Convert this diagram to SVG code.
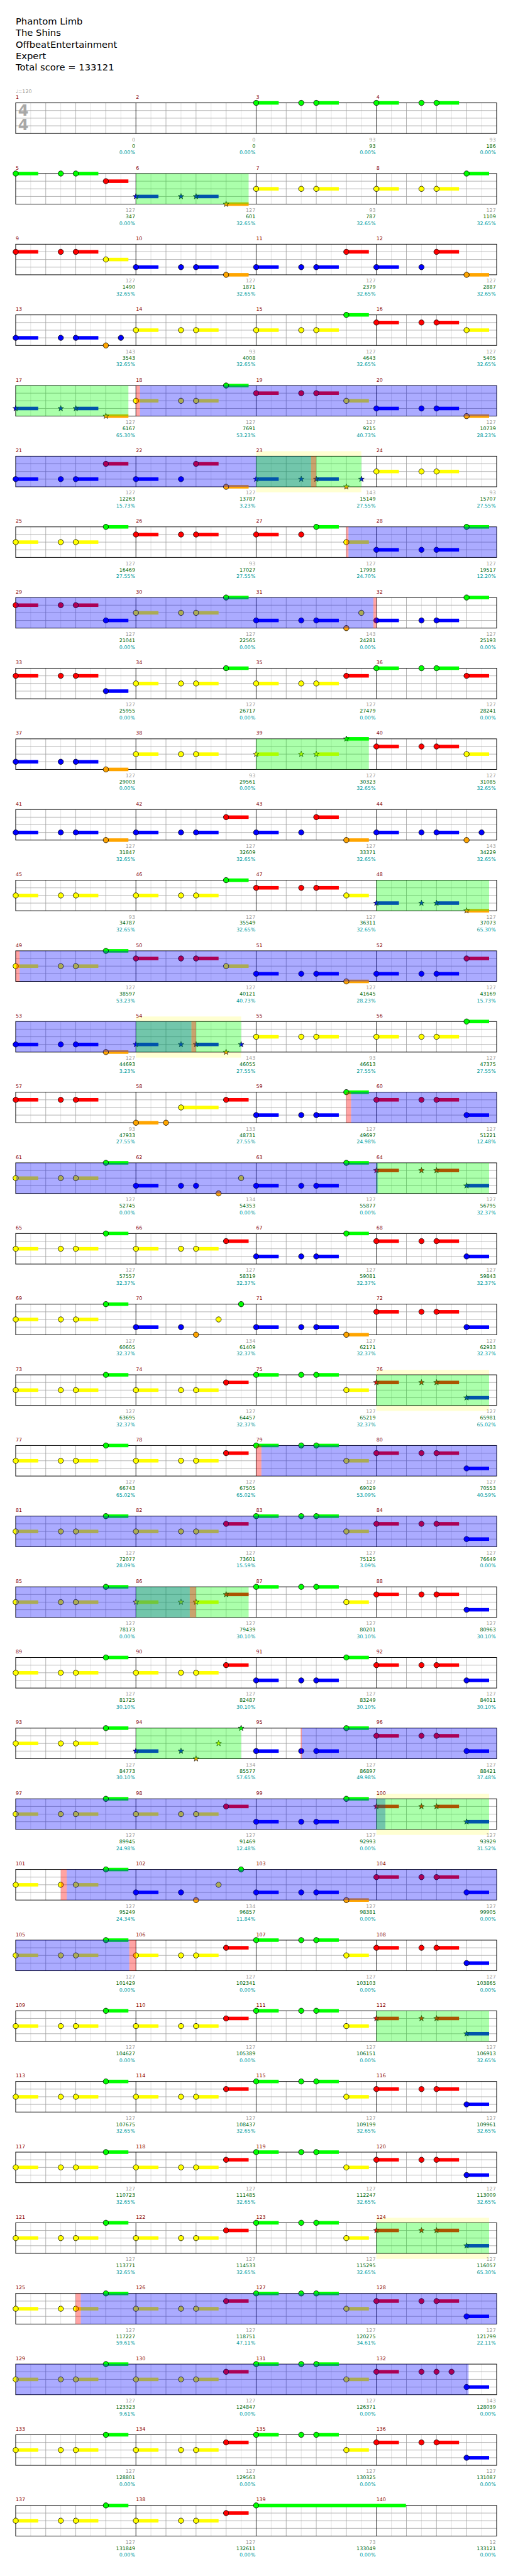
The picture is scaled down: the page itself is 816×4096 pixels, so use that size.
<svg xmlns="http://www.w3.org/2000/svg" width="816" height="4096" viewBox="0 0 816 4096">
<style>
text{font-family:"DejaVu Sans","Liberation Sans",sans-serif}
.ti{font-size:18.5px;fill:#000}
.tp{font-size:10px;fill:#a0a0a0}
.ts{font-size:30px;font-weight:bold;fill:#a8a8a8}
.mn{font-size:10px;fill:#8b0000}
.a,.s,.p{font-size:10px;text-anchor:end}
.a{fill:#a0a0a0}.s{fill:#006400}.p{fill:#009a9a}
.n{stroke:#000;stroke-width:1}
.st{stroke:#000;stroke-width:.8}
.g{fill:#00ff00}.r{fill:#ff0000}.y{fill:#ffff00}.b{fill:#0000ff}.o{fill:#ffa500}
.og{fill:#00ff00;fill-opacity:.33}
.ob{fill:#0000ff;fill-opacity:.33}
.or{fill:#ff0000;fill-opacity:.36}
.oy{fill:#ffffd2}
</style>
<defs>
<circle id="cG" r="5.3" class="g n"/>
<circle id="cR" cy="15.25" r="5.3" class="r n"/>
<circle id="cY" cy="30.5" r="5.3" class="y n"/>
<circle id="cB" cy="45.75" r="5.3" class="b n"/>
<circle id="cO" cy="61" r="5.3" class="o n"/>
<g id="sG"><rect y="-3.5" width="45" height="7" class="g"/><use href="#cG"/></g>
<g id="sR"><rect y="11.75" width="45" height="7" class="r"/><use href="#cR"/></g>
<g id="sY"><rect y="27" width="45" height="7" class="y"/><use href="#cY"/></g>
<g id="sB"><rect y="42.25" width="45" height="7" class="b"/><use href="#cB"/></g>
<g id="sO"><rect y="57.5" width="45" height="7" class="o"/><use href="#cO"/></g>
<path id="star" d="M0-6 1.41-1.94 5.71-1.85 2.28.74 3.53 4.85 0 2.4-3.53 4.85-2.28.74-5.71-1.85-1.41-1.94Z"/>
<use id="tG" href="#star" class="g st"/>
<use id="tR" href="#star" y="15.25" class="r st"/>
<use id="tY" href="#star" y="30.5" class="y st"/>
<use id="tB" href="#star" y="45.75" class="b st"/>
<use id="tO" href="#star" y="61" class="o st"/>
<g id="uG"><rect y="-3.5" width="45" height="7" class="g"/><use href="#tG"/></g>
<g id="uR"><rect y="11.75" width="45" height="7" class="r"/><use href="#tR"/></g>
<g id="uY"><rect y="27" width="45" height="7" class="y"/><use href="#tY"/></g>
<g id="uB"><rect y="42.25" width="45" height="7" class="b"/><use href="#tB"/></g>
<g id="uO"><rect y="57.5" width="45" height="7" class="o"/><use href="#tO"/></g>
<g id="rG"><use href="#sG"/><use href="#cG" x="90"/><use href="#sG" x="120"/></g>
<g id="rR"><use href="#sR"/><use href="#cR" x="90"/><use href="#sR" x="120"/></g>
<g id="rY"><use href="#sY"/><use href="#cY" x="90"/><use href="#sY" x="120"/></g>
<g id="rB"><use href="#sB"/><use href="#cB" x="90"/><use href="#sB" x="120"/></g>
<g id="qB"><use href="#uB"/><use href="#tB" x="90"/><use href="#uB" x="120"/></g>
<g id="qR"><use href="#uR"/><use href="#tR" x="90"/><use href="#uR" x="120"/></g>
<g id="qY"><use href="#uY"/><use href="#tY" x="90"/><use href="#uY" x="120"/></g>
<g id="staff">
<rect width="960" height="61" fill="#fff"/>
<path d="M30 0V61M90 0V61M150 0V61M210 0V61M270 0V61M330 0V61M390 0V61M450 0V61M510 0V61M570 0V61M630 0V61M690 0V61M750 0V61M810 0V61M870 0V61M930 0V61" stroke="#dcdcdc" fill="none"/>
<path d="M60 0V61M120 0V61M180 0V61M300 0V61M360 0V61M420 0V61M540 0V61M600 0V61M660 0V61M780 0V61M840 0V61M900 0V61M0 15.25H960M0 30.5H960M0 45.75H960" stroke="#a0a0a0" fill="none"/>
<path d="M240 0V61M480 0V61M720 0V61" stroke="#000" fill="none"/>
<rect width="960" height="61" fill="none" stroke="#000" stroke-width="1.2"/>
</g>
</defs>
<rect width="816" height="4096" fill="#fff"/>
<g transform="scale(0.796875) translate(31.3 0)">
<g id="header">
<text class="ti" x="0" y="49">Phantom Limb</text>
<text class="ti" x="0" y="72">The Shins</text>
<text class="ti" x="0" y="95">OffbeatEntertainment</text>
<text class="ti" x="0" y="118">Expert</text>
<text class="ti" x="0" y="141">Total score = 133121</text>
</g>

<g id="row0" transform="translate(0 205.3)">
<text class="tp" x="0" y="-20">♩=120</text>
<use href="#staff"/>
<text class="ts" x="4.7" y="25">4</text><text class="ts" x="4.7" y="54">4</text>
<g id="m1"><text class="mn" x="0" y="-8">1</text><text class="a" x="238.5" y="76.5">0</text><text class="s" x="238.5" y="89">0</text><text class="p" x="238.5" y="102.4">0.00%</text></g>
<g id="m2"><text class="mn" x="240" y="-8">2</text><text class="a" x="478.5" y="76.5">0</text><text class="s" x="478.5" y="89">0</text><text class="p" x="478.5" y="102.4">0.00%</text></g>
<g id="m3"><text class="mn" x="480" y="-8">3</text><use href="#rG" x="480"/><text class="a" x="718.5" y="76.5">93</text><text class="s" x="718.5" y="89">93</text><text class="p" x="718.5" y="102.4">0.00%</text></g>
<g id="m4"><text class="mn" x="720" y="-8">4</text><use href="#rG" x="720"/><text class="a" x="958.5" y="76.5">93</text><text class="s" x="958.5" y="89">186</text><text class="p" x="958.5" y="102.4">0.00%</text></g>
</g>

<g id="row1" transform="translate(0 346.3)">
<use href="#staff"/>
<g id="m5"><text class="mn" x="0" y="-8">5</text><use href="#rG"/><use href="#sR" x="180"/><text class="a" x="238.5" y="76.5">127</text><text class="s" x="238.5" y="89">347</text><text class="p" x="238.5" y="102.4">0.00%</text></g>
<g id="m6"><text class="mn" x="240" y="-8">6</text><use href="#qB" x="240"/><use href="#uO" x="420"/><text class="a" x="478.5" y="76.5">127</text><text class="s" x="478.5" y="89">601</text><text class="p" x="478.5" y="102.4">32.65%</text></g>
<g id="m7"><text class="mn" x="480" y="-8">7</text><use href="#rY" x="480"/><text class="a" x="718.5" y="76.5">93</text><text class="s" x="718.5" y="89">787</text><text class="p" x="718.5" y="102.4">32.65%</text></g>
<g id="m8"><text class="mn" x="720" y="-8">8</text><use href="#rY" x="720"/><use href="#sG" x="900"/><text class="a" x="958.5" y="76.5">127</text><text class="s" x="958.5" y="89">1109</text><text class="p" x="958.5" y="102.4">32.65%</text></g>
<rect class="og" x="240" width="225" height="61"/>
</g>

<g id="row2" transform="translate(0 487.3)">
<use href="#staff"/>
<g id="m9"><text class="mn" x="0" y="-8">9</text><use href="#rR"/><use href="#sY" x="180"/><text class="a" x="238.5" y="76.5">127</text><text class="s" x="238.5" y="89">1490</text><text class="p" x="238.5" y="102.4">32.65%</text></g>
<g id="m10"><text class="mn" x="240" y="-8">10</text><use href="#rB" x="240"/><use href="#sO" x="420"/><text class="a" x="478.5" y="76.5">127</text><text class="s" x="478.5" y="89">1871</text><text class="p" x="478.5" y="102.4">32.65%</text></g>
<g id="m11"><text class="mn" x="480" y="-8">11</text><use href="#rB" x="480"/><use href="#sR" x="660"/><text class="a" x="718.5" y="76.5">127</text><text class="s" x="718.5" y="89">2379</text><text class="p" x="718.5" y="102.4">32.65%</text></g>
<g id="m12"><text class="mn" x="720" y="-8">12</text><use href="#sB" x="720"/><use href="#cB" x="810"/><use href="#sR" x="840"/><use href="#sO" x="900"/><text class="a" x="958.5" y="76.5">127</text><text class="s" x="958.5" y="89">2887</text><text class="p" x="958.5" y="102.4">32.65%</text></g>
</g>

<g id="row3" transform="translate(0 628.3)">
<use href="#staff"/>
<g id="m13"><text class="mn" x="0" y="-8">13</text><use href="#rB"/><use href="#cO" x="180"/><use href="#cB" x="210"/><text class="a" x="238.5" y="76.5">143</text><text class="s" x="238.5" y="89">3543</text><text class="p" x="238.5" y="102.4">32.65%</text></g>
<g id="m14"><text class="mn" x="240" y="-8">14</text><use href="#rY" x="240"/><text class="a" x="478.5" y="76.5">93</text><text class="s" x="478.5" y="89">4008</text><text class="p" x="478.5" y="102.4">32.65%</text></g>
<g id="m15"><text class="mn" x="480" y="-8">15</text><use href="#rY" x="480"/><use href="#sG" x="660"/><text class="a" x="718.5" y="76.5">127</text><text class="s" x="718.5" y="89">4643</text><text class="p" x="718.5" y="102.4">32.65%</text></g>
<g id="m16"><text class="mn" x="720" y="-8">16</text><use href="#rR" x="720"/><use href="#sY" x="900"/><text class="a" x="958.5" y="76.5">127</text><text class="s" x="958.5" y="89">5405</text><text class="p" x="958.5" y="102.4">32.65%</text></g>
</g>

<g id="row4" transform="translate(0 769.3)">
<use href="#staff"/>
<g id="m17"><text class="mn" x="0" y="-8">17</text><use href="#qB"/><use href="#uO" x="180"/><text class="a" x="238.5" y="76.5">127</text><text class="s" x="238.5" y="89">6167</text><text class="p" x="238.5" y="102.4">65.30%</text></g>
<g id="m18"><text class="mn" x="240" y="-8">18</text><use href="#rY" x="240"/><use href="#sG" x="420"/><text class="a" x="478.5" y="76.5">127</text><text class="s" x="478.5" y="89">7691</text><text class="p" x="478.5" y="102.4">53.23%</text></g>
<g id="m19"><text class="mn" x="480" y="-8">19</text><use href="#rR" x="480"/><use href="#sY" x="660"/><text class="a" x="718.5" y="76.5">127</text><text class="s" x="718.5" y="89">9215</text><text class="p" x="718.5" y="102.4">40.73%</text></g>
<g id="m20"><text class="mn" x="720" y="-8">20</text><use href="#rB" x="720"/><use href="#sO" x="900"/><text class="a" x="958.5" y="76.5">127</text><text class="s" x="958.5" y="89">10739</text><text class="p" x="958.5" y="102.4">28.23%</text></g>
<rect class="og" x="0" width="225" height="61"/>
<rect class="or" x="240" width="8.2" height="61"/>
<rect class="ob" x="248.2" width="711.8" height="61"/>
</g>

<g id="row5" transform="translate(0 910.3)">
<rect class="oy" x="480" y="-10" width="210" height="82"/>
<use href="#staff"/>
<g id="m21"><text class="mn" x="0" y="-8">21</text><use href="#rB"/><use href="#sR" x="180"/><text class="a" x="238.5" y="76.5">127</text><text class="s" x="238.5" y="89">12263</text><text class="p" x="238.5" y="102.4">15.73%</text></g>
<g id="m22"><text class="mn" x="240" y="-8">22</text><use href="#sB" x="240"/><use href="#cB" x="330"/><use href="#sR" x="360"/><use href="#sO" x="420"/><text class="a" x="478.5" y="76.5">127</text><text class="s" x="478.5" y="89">13787</text><text class="p" x="478.5" y="102.4">3.23%</text></g>
<g id="m23"><text class="mn" x="480" y="-8">23</text><use href="#qB" x="480"/><use href="#tO" x="660"/><use href="#tB" x="690"/><text class="a" x="718.5" y="76.5">143</text><text class="s" x="718.5" y="89">15149</text><text class="p" x="718.5" y="102.4">27.55%</text></g>
<g id="m24"><text class="mn" x="720" y="-8">24</text><use href="#rY" x="720"/><text class="a" x="958.5" y="76.5">93</text><text class="s" x="958.5" y="89">15707</text><text class="p" x="958.5" y="102.4">27.55%</text></g>
<rect class="ob" x="0" width="589.8" height="61"/>
<rect class="og" x="480" width="210" height="61"/>
<rect class="or" x="589.8" width="10.2" height="61"/>
</g>

<g id="row6" transform="translate(0 1051.3)">
<use href="#staff"/>
<g id="m25"><text class="mn" x="0" y="-8">25</text><use href="#rY"/><use href="#sG" x="180"/><text class="a" x="238.5" y="76.5">127</text><text class="s" x="238.5" y="89">16469</text><text class="p" x="238.5" y="102.4">27.55%</text></g>
<g id="m26"><text class="mn" x="240" y="-8">26</text><use href="#rR" x="240"/><text class="a" x="478.5" y="76.5">93</text><text class="s" x="478.5" y="89">17027</text><text class="p" x="478.5" y="102.4">27.55%</text></g>
<g id="m27"><text class="mn" x="480" y="-8">27</text><use href="#sR" x="480"/><use href="#cR" x="570"/><use href="#sG" x="600"/><use href="#sY" x="660"/><text class="a" x="718.5" y="76.5">127</text><text class="s" x="718.5" y="89">17993</text><text class="p" x="718.5" y="102.4">24.70%</text></g>
<g id="m28"><text class="mn" x="720" y="-8">28</text><use href="#rB" x="720"/><use href="#sG" x="900"/><text class="a" x="958.5" y="76.5">127</text><text class="s" x="958.5" y="89">19517</text><text class="p" x="958.5" y="102.4">12.20%</text></g>
<rect class="or" x="659.7" width="4.6" height="61"/>
<rect class="ob" x="664.3" width="295.7" height="61"/>
</g>

<g id="row7" transform="translate(0 1192.3)">
<use href="#staff"/>
<g id="m29"><text class="mn" x="0" y="-8">29</text><use href="#rR"/><use href="#sB" x="180"/><text class="a" x="238.5" y="76.5">127</text><text class="s" x="238.5" y="89">21041</text><text class="p" x="238.5" y="102.4">0.00%</text></g>
<g id="m30"><text class="mn" x="240" y="-8">30</text><use href="#rY" x="240"/><use href="#sG" x="420"/><text class="a" x="478.5" y="76.5">127</text><text class="s" x="478.5" y="89">22565</text><text class="p" x="478.5" y="102.4">0.00%</text></g>
<g id="m31"><text class="mn" x="480" y="-8">31</text><use href="#rB" x="480"/><use href="#cO" x="660"/><use href="#cY" x="690"/><text class="a" x="718.5" y="76.5">143</text><text class="s" x="718.5" y="89">24281</text><text class="p" x="718.5" y="102.4">0.00%</text></g>
<g id="m32"><text class="mn" x="720" y="-8">32</text><use href="#rB" x="720"/><use href="#sG" x="900"/><text class="a" x="958.5" y="76.5">127</text><text class="s" x="958.5" y="89">25193</text><text class="p" x="958.5" y="102.4">0.00%</text></g>
<rect class="ob" x="0" width="714" height="61"/>
<rect class="or" x="714" width="6" height="61"/>
</g>

<g id="row8" transform="translate(0 1333.3)">
<use href="#staff"/>
<g id="m33"><text class="mn" x="0" y="-8">33</text><use href="#rR"/><use href="#sB" x="180"/><text class="a" x="238.5" y="76.5">127</text><text class="s" x="238.5" y="89">25955</text><text class="p" x="238.5" y="102.4">0.00%</text></g>
<g id="m34"><text class="mn" x="240" y="-8">34</text><use href="#rY" x="240"/><use href="#sG" x="420"/><text class="a" x="478.5" y="76.5">127</text><text class="s" x="478.5" y="89">26717</text><text class="p" x="478.5" y="102.4">0.00%</text></g>
<g id="m35"><text class="mn" x="480" y="-8">35</text><use href="#rY" x="480"/><use href="#sR" x="660"/><text class="a" x="718.5" y="76.5">127</text><text class="s" x="718.5" y="89">27479</text><text class="p" x="718.5" y="102.4">0.00%</text></g>
<g id="m36"><text class="mn" x="720" y="-8">36</text><use href="#rG" x="720"/><use href="#sR" x="900"/><text class="a" x="958.5" y="76.5">127</text><text class="s" x="958.5" y="89">28241</text><text class="p" x="958.5" y="102.4">0.00%</text></g>
</g>

<g id="row9" transform="translate(0 1474.3)">
<use href="#staff"/>
<g id="m37"><text class="mn" x="0" y="-8">37</text><use href="#rB"/><use href="#sO" x="180"/><text class="a" x="238.5" y="76.5">127</text><text class="s" x="238.5" y="89">29003</text><text class="p" x="238.5" y="102.4">0.00%</text></g>
<g id="m38"><text class="mn" x="240" y="-8">38</text><use href="#rY" x="240"/><text class="a" x="478.5" y="76.5">93</text><text class="s" x="478.5" y="89">29561</text><text class="p" x="478.5" y="102.4">0.00%</text></g>
<g id="m39"><text class="mn" x="480" y="-8">39</text><use href="#qY" x="480"/><use href="#uG" x="660"/><text class="a" x="718.5" y="76.5">127</text><text class="s" x="718.5" y="89">30323</text><text class="p" x="718.5" y="102.4">32.65%</text></g>
<g id="m40"><text class="mn" x="720" y="-8">40</text><use href="#rR" x="720"/><use href="#sY" x="900"/><text class="a" x="958.5" y="76.5">127</text><text class="s" x="958.5" y="89">31085</text><text class="p" x="958.5" y="102.4">32.65%</text></g>
<rect class="og" x="480" width="225" height="61"/>
</g>

<g id="row10" transform="translate(0 1615.3)">
<use href="#staff"/>
<g id="m41"><text class="mn" x="0" y="-8">41</text><use href="#rB"/><use href="#sO" x="180"/><text class="a" x="238.5" y="76.5">127</text><text class="s" x="238.5" y="89">31847</text><text class="p" x="238.5" y="102.4">32.65%</text></g>
<g id="m42"><text class="mn" x="240" y="-8">42</text><use href="#rB" x="240"/><use href="#sR" x="420"/><text class="a" x="478.5" y="76.5">127</text><text class="s" x="478.5" y="89">32609</text><text class="p" x="478.5" y="102.4">32.65%</text></g>
<g id="m43"><text class="mn" x="480" y="-8">43</text><use href="#sB" x="480"/><use href="#cB" x="570"/><use href="#sR" x="600"/><use href="#sO" x="660"/><text class="a" x="718.5" y="76.5">127</text><text class="s" x="718.5" y="89">33371</text><text class="p" x="718.5" y="102.4">32.65%</text></g>
<g id="m44"><text class="mn" x="720" y="-8">44</text><use href="#rB" x="720"/><use href="#cO" x="900"/><use href="#cB" x="930"/><text class="a" x="958.5" y="76.5">143</text><text class="s" x="958.5" y="89">34229</text><text class="p" x="958.5" y="102.4">32.65%</text></g>
</g>

<g id="row11" transform="translate(0 1756.3)">
<use href="#staff"/>
<g id="m45"><text class="mn" x="0" y="-8">45</text><use href="#rY"/><text class="a" x="238.5" y="76.5">93</text><text class="s" x="238.5" y="89">34787</text><text class="p" x="238.5" y="102.4">32.65%</text></g>
<g id="m46"><text class="mn" x="240" y="-8">46</text><use href="#rY" x="240"/><use href="#sG" x="420"/><text class="a" x="478.5" y="76.5">127</text><text class="s" x="478.5" y="89">35549</text><text class="p" x="478.5" y="102.4">32.65%</text></g>
<g id="m47"><text class="mn" x="480" y="-8">47</text><use href="#rR" x="480"/><use href="#sY" x="660"/><text class="a" x="718.5" y="76.5">127</text><text class="s" x="718.5" y="89">36311</text><text class="p" x="718.5" y="102.4">32.65%</text></g>
<g id="m48"><text class="mn" x="720" y="-8">48</text><use href="#qB" x="720"/><use href="#uO" x="900"/><text class="a" x="958.5" y="76.5">127</text><text class="s" x="958.5" y="89">37073</text><text class="p" x="958.5" y="102.4">65.30%</text></g>
<rect class="og" x="720" width="225" height="61"/>
</g>

<g id="row12" transform="translate(0 1897.3)">
<use href="#staff"/>
<g id="m49"><text class="mn" x="0" y="-8">49</text><use href="#rY"/><use href="#sG" x="180"/><text class="a" x="238.5" y="76.5">127</text><text class="s" x="238.5" y="89">38597</text><text class="p" x="238.5" y="102.4">53.23%</text></g>
<g id="m50"><text class="mn" x="240" y="-8">50</text><use href="#rR" x="240"/><use href="#sY" x="420"/><text class="a" x="478.5" y="76.5">127</text><text class="s" x="478.5" y="89">40121</text><text class="p" x="478.5" y="102.4">40.73%</text></g>
<g id="m51"><text class="mn" x="480" y="-8">51</text><use href="#rB" x="480"/><use href="#sO" x="660"/><text class="a" x="718.5" y="76.5">127</text><text class="s" x="718.5" y="89">41645</text><text class="p" x="718.5" y="102.4">28.23%</text></g>
<g id="m52"><text class="mn" x="720" y="-8">52</text><use href="#rB" x="720"/><use href="#sR" x="900"/><text class="a" x="958.5" y="76.5">127</text><text class="s" x="958.5" y="89">43169</text><text class="p" x="958.5" y="102.4">15.73%</text></g>
<rect class="or" x="0" width="7.9" height="61"/>
<rect class="ob" x="7.9" width="952.1" height="61"/>
</g>

<g id="row13" transform="translate(0 2038.3)">
<rect class="oy" x="240" y="-10" width="210" height="82"/>
<use href="#staff"/>
<g id="m53"><text class="mn" x="0" y="-8">53</text><use href="#rB"/><use href="#sO" x="180"/><text class="a" x="238.5" y="76.5">127</text><text class="s" x="238.5" y="89">44693</text><text class="p" x="238.5" y="102.4">3.23%</text></g>
<g id="m54"><text class="mn" x="240" y="-8">54</text><use href="#qB" x="240"/><use href="#tO" x="420"/><use href="#tB" x="450"/><text class="a" x="478.5" y="76.5">143</text><text class="s" x="478.5" y="89">46055</text><text class="p" x="478.5" y="102.4">27.55%</text></g>
<g id="m55"><text class="mn" x="480" y="-8">55</text><use href="#rY" x="480"/><text class="a" x="718.5" y="76.5">93</text><text class="s" x="718.5" y="89">46613</text><text class="p" x="718.5" y="102.4">27.55%</text></g>
<g id="m56"><text class="mn" x="720" y="-8">56</text><use href="#rY" x="720"/><use href="#sG" x="900"/><text class="a" x="958.5" y="76.5">127</text><text class="s" x="958.5" y="89">47375</text><text class="p" x="958.5" y="102.4">27.55%</text></g>
<rect class="ob" x="0" width="350.8" height="61"/>
<rect class="og" x="240" width="210" height="61"/>
<rect class="or" x="350.8" width="9.2" height="61"/>
</g>

<g id="row14" transform="translate(0 2179.3)">
<use href="#staff"/>
<g id="m57"><text class="mn" x="0" y="-8">57</text><use href="#rR"/><text class="a" x="238.5" y="76.5">93</text><text class="s" x="238.5" y="89">47933</text><text class="p" x="238.5" y="102.4">27.55%</text></g>
<g id="m58"><text class="mn" x="240" y="-8">58</text><use href="#sO" x="240"/><use href="#cO" x="300"/><rect class="y" x="330" y="27" width="75" height="7"/><use href="#cY" x="330"/><use href="#sR" x="420"/><text class="a" x="478.5" y="76.5">133</text><text class="s" x="478.5" y="89">48731</text><text class="p" x="478.5" y="102.4">27.55%</text></g>
<g id="m59"><text class="mn" x="480" y="-8">59</text><use href="#rB" x="480"/><use href="#sG" x="660"/><text class="a" x="718.5" y="76.5">127</text><text class="s" x="718.5" y="89">49697</text><text class="p" x="718.5" y="102.4">24.98%</text></g>
<g id="m60"><text class="mn" x="720" y="-8">60</text><use href="#rR" x="720"/><use href="#sB" x="900"/><text class="a" x="958.5" y="76.5">127</text><text class="s" x="958.5" y="89">51221</text><text class="p" x="958.5" y="102.4">12.48%</text></g>
<rect class="or" x="659.7" width="9.8" height="61"/>
<rect class="ob" x="669.5" width="290.5" height="61"/>
</g>

<g id="row15" transform="translate(0 2320.3)">
<use href="#staff"/>
<g id="m61"><text class="mn" x="0" y="-8">61</text><use href="#rY"/><use href="#sG" x="180"/><text class="a" x="238.5" y="76.5">127</text><text class="s" x="238.5" y="89">52745</text><text class="p" x="238.5" y="102.4">0.00%</text></g>
<g id="m62"><text class="mn" x="240" y="-8">62</text><use href="#sB" x="240"/><use href="#cB" x="330"/><use href="#cB" x="360"/><use href="#cO" x="405"/><use href="#cY" x="450"/><text class="a" x="478.5" y="76.5">134</text><text class="s" x="478.5" y="89">54353</text><text class="p" x="478.5" y="102.4">0.00%</text></g>
<g id="m63"><text class="mn" x="480" y="-8">63</text><use href="#rB" x="480"/><use href="#sG" x="660"/><text class="a" x="718.5" y="76.5">127</text><text class="s" x="718.5" y="89">55877</text><text class="p" x="718.5" y="102.4">0.00%</text></g>
<g id="m64"><text class="mn" x="720" y="-8">64</text><use href="#qR" x="720"/><use href="#uB" x="900"/><text class="a" x="958.5" y="76.5">127</text><text class="s" x="958.5" y="89">56795</text><text class="p" x="958.5" y="102.4">32.37%</text></g>
<rect class="ob" x="0" width="723" height="61"/>
<rect class="og" x="720" width="225" height="61"/>
</g>

<g id="row16" transform="translate(0 2461.3)">
<use href="#staff"/>
<g id="m65"><text class="mn" x="0" y="-8">65</text><use href="#rY"/><use href="#sG" x="180"/><text class="a" x="238.5" y="76.5">127</text><text class="s" x="238.5" y="89">57557</text><text class="p" x="238.5" y="102.4">32.37%</text></g>
<g id="m66"><text class="mn" x="240" y="-8">66</text><use href="#rY" x="240"/><use href="#sR" x="420"/><text class="a" x="478.5" y="76.5">127</text><text class="s" x="478.5" y="89">58319</text><text class="p" x="478.5" y="102.4">32.37%</text></g>
<g id="m67"><text class="mn" x="480" y="-8">67</text><use href="#rB" x="480"/><use href="#sG" x="660"/><text class="a" x="718.5" y="76.5">127</text><text class="s" x="718.5" y="89">59081</text><text class="p" x="718.5" y="102.4">32.37%</text></g>
<g id="m68"><text class="mn" x="720" y="-8">68</text><use href="#rR" x="720"/><use href="#sB" x="900"/><text class="a" x="958.5" y="76.5">127</text><text class="s" x="958.5" y="89">59843</text><text class="p" x="958.5" y="102.4">32.37%</text></g>
</g>

<g id="row17" transform="translate(0 2602.3)">
<use href="#staff"/>
<g id="m69"><text class="mn" x="0" y="-8">69</text><use href="#rY"/><use href="#sG" x="180"/><text class="a" x="238.5" y="76.5">127</text><text class="s" x="238.5" y="89">60605</text><text class="p" x="238.5" y="102.4">32.37%</text></g>
<g id="m70"><text class="mn" x="240" y="-8">70</text><use href="#sB" x="240"/><use href="#cB" x="330"/><use href="#cO" x="360"/><use href="#cY" x="405"/><use href="#cG" x="450"/><text class="a" x="478.5" y="76.5">134</text><text class="s" x="478.5" y="89">61409</text><text class="p" x="478.5" y="102.4">32.37%</text></g>
<g id="m71"><text class="mn" x="480" y="-8">71</text><use href="#rB" x="480"/><use href="#sO" x="660"/><text class="a" x="718.5" y="76.5">127</text><text class="s" x="718.5" y="89">62171</text><text class="p" x="718.5" y="102.4">32.37%</text></g>
<g id="m72"><text class="mn" x="720" y="-8">72</text><use href="#rR" x="720"/><use href="#sB" x="900"/><text class="a" x="958.5" y="76.5">127</text><text class="s" x="958.5" y="89">62933</text><text class="p" x="958.5" y="102.4">32.37%</text></g>
</g>

<g id="row18" transform="translate(0 2743.3)">
<rect class="oy" x="720" y="-10" width="225" height="82"/>
<use href="#staff"/>
<g id="m73"><text class="mn" x="0" y="-8">73</text><use href="#rY"/><use href="#sG" x="180"/><text class="a" x="238.5" y="76.5">127</text><text class="s" x="238.5" y="89">63695</text><text class="p" x="238.5" y="102.4">32.37%</text></g>
<g id="m74"><text class="mn" x="240" y="-8">74</text><use href="#rY" x="240"/><use href="#sR" x="420"/><text class="a" x="478.5" y="76.5">127</text><text class="s" x="478.5" y="89">64457</text><text class="p" x="478.5" y="102.4">32.37%</text></g>
<g id="m75"><text class="mn" x="480" y="-8">75</text><use href="#rG" x="480"/><use href="#sY" x="660"/><text class="a" x="718.5" y="76.5">127</text><text class="s" x="718.5" y="89">65219</text><text class="p" x="718.5" y="102.4">32.37%</text></g>
<g id="m76"><text class="mn" x="720" y="-8">76</text><use href="#qR" x="720"/><use href="#uB" x="900"/><text class="a" x="958.5" y="76.5">127</text><text class="s" x="958.5" y="89">65981</text><text class="p" x="958.5" y="102.4">65.02%</text></g>
<rect class="og" x="720" width="225" height="61"/>
</g>

<g id="row19" transform="translate(0 2884.3)">
<use href="#staff"/>
<g id="m77"><text class="mn" x="0" y="-8">77</text><use href="#rY"/><use href="#sG" x="180"/><text class="a" x="238.5" y="76.5">127</text><text class="s" x="238.5" y="89">66743</text><text class="p" x="238.5" y="102.4">65.02%</text></g>
<g id="m78"><text class="mn" x="240" y="-8">78</text><use href="#rY" x="240"/><use href="#sR" x="420"/><text class="a" x="478.5" y="76.5">127</text><text class="s" x="478.5" y="89">67505</text><text class="p" x="478.5" y="102.4">65.02%</text></g>
<g id="m79"><text class="mn" x="480" y="-8">79</text><use href="#rG" x="480"/><use href="#sY" x="660"/><text class="a" x="718.5" y="76.5">127</text><text class="s" x="718.5" y="89">69029</text><text class="p" x="718.5" y="102.4">53.09%</text></g>
<g id="m80"><text class="mn" x="720" y="-8">80</text><use href="#rR" x="720"/><use href="#sB" x="900"/><text class="a" x="958.5" y="76.5">127</text><text class="s" x="958.5" y="89">70553</text><text class="p" x="958.5" y="102.4">40.59%</text></g>
<rect class="or" x="480" width="10.5" height="61"/>
<rect class="ob" x="490.5" width="469.5" height="61"/>
</g>

<g id="row20" transform="translate(0 3025.3)">
<use href="#staff"/>
<g id="m81"><text class="mn" x="0" y="-8">81</text><use href="#rY"/><use href="#sG" x="180"/><text class="a" x="238.5" y="76.5">127</text><text class="s" x="238.5" y="89">72077</text><text class="p" x="238.5" y="102.4">28.09%</text></g>
<g id="m82"><text class="mn" x="240" y="-8">82</text><use href="#rY" x="240"/><use href="#sR" x="420"/><text class="a" x="478.5" y="76.5">127</text><text class="s" x="478.5" y="89">73601</text><text class="p" x="478.5" y="102.4">15.59%</text></g>
<g id="m83"><text class="mn" x="480" y="-8">83</text><use href="#rG" x="480"/><use href="#sY" x="660"/><text class="a" x="718.5" y="76.5">127</text><text class="s" x="718.5" y="89">75125</text><text class="p" x="718.5" y="102.4">3.09%</text></g>
<g id="m84"><text class="mn" x="720" y="-8">84</text><use href="#rR" x="720"/><use href="#sB" x="900"/><text class="a" x="958.5" y="76.5">127</text><text class="s" x="958.5" y="89">76649</text><text class="p" x="958.5" y="102.4">0.00%</text></g>
<rect class="ob" x="0" width="960" height="61"/>
</g>

<g id="row21" transform="translate(0 3166.3)">
<use href="#staff"/>
<g id="m85"><text class="mn" x="0" y="-8">85</text><use href="#rY"/><use href="#sG" x="180"/><text class="a" x="238.5" y="76.5">127</text><text class="s" x="238.5" y="89">78173</text><text class="p" x="238.5" y="102.4">0.00%</text></g>
<g id="m86"><text class="mn" x="240" y="-8">86</text><use href="#qY" x="240"/><use href="#uR" x="420"/><text class="a" x="478.5" y="76.5">127</text><text class="s" x="478.5" y="89">79439</text><text class="p" x="478.5" y="102.4">30.10%</text></g>
<g id="m87"><text class="mn" x="480" y="-8">87</text><use href="#rG" x="480"/><use href="#sY" x="660"/><text class="a" x="718.5" y="76.5">127</text><text class="s" x="718.5" y="89">80201</text><text class="p" x="718.5" y="102.4">30.10%</text></g>
<g id="m88"><text class="mn" x="720" y="-8">88</text><use href="#rR" x="720"/><use href="#sB" x="900"/><text class="a" x="958.5" y="76.5">127</text><text class="s" x="958.5" y="89">80963</text><text class="p" x="958.5" y="102.4">30.10%</text></g>
<rect class="ob" x="0" width="347.5" height="61"/>
<rect class="og" x="240" width="225" height="61"/>
<rect class="or" x="347.5" width="12.5" height="61"/>
</g>

<g id="row22" transform="translate(0 3307.3)">
<use href="#staff"/>
<g id="m89"><text class="mn" x="0" y="-8">89</text><use href="#rY"/><use href="#sG" x="180"/><text class="a" x="238.5" y="76.5">127</text><text class="s" x="238.5" y="89">81725</text><text class="p" x="238.5" y="102.4">30.10%</text></g>
<g id="m90"><text class="mn" x="240" y="-8">90</text><use href="#rY" x="240"/><use href="#sR" x="420"/><text class="a" x="478.5" y="76.5">127</text><text class="s" x="478.5" y="89">82487</text><text class="p" x="478.5" y="102.4">30.10%</text></g>
<g id="m91"><text class="mn" x="480" y="-8">91</text><use href="#rB" x="480"/><use href="#sG" x="660"/><text class="a" x="718.5" y="76.5">127</text><text class="s" x="718.5" y="89">83249</text><text class="p" x="718.5" y="102.4">30.10%</text></g>
<g id="m92"><text class="mn" x="720" y="-8">92</text><use href="#rR" x="720"/><use href="#sB" x="900"/><text class="a" x="958.5" y="76.5">127</text><text class="s" x="958.5" y="89">84011</text><text class="p" x="958.5" y="102.4">30.10%</text></g>
</g>

<g id="row23" transform="translate(0 3448.3)">
<use href="#staff"/>
<g id="m93"><text class="mn" x="0" y="-8">93</text><use href="#rY"/><use href="#sG" x="180"/><text class="a" x="238.5" y="76.5">127</text><text class="s" x="238.5" y="89">84773</text><text class="p" x="238.5" y="102.4">30.10%</text></g>
<g id="m94"><text class="mn" x="240" y="-8">94</text><use href="#uB" x="240"/><use href="#tB" x="330"/><use href="#tO" x="360"/><use href="#tY" x="405"/><use href="#tG" x="450"/><text class="a" x="478.5" y="76.5">134</text><text class="s" x="478.5" y="89">85577</text><text class="p" x="478.5" y="102.4">57.65%</text></g>
<g id="m95"><text class="mn" x="480" y="-8">95</text><use href="#rB" x="480"/><use href="#sG" x="660"/><text class="a" x="718.5" y="76.5">127</text><text class="s" x="718.5" y="89">86897</text><text class="p" x="718.5" y="102.4">49.98%</text></g>
<g id="m96"><text class="mn" x="720" y="-8">96</text><use href="#rR" x="720"/><use href="#sB" x="900"/><text class="a" x="958.5" y="76.5">127</text><text class="s" x="958.5" y="89">88421</text><text class="p" x="958.5" y="102.4">37.48%</text></g>
<rect class="og" x="240" width="210" height="61"/>
<rect class="or" x="569" width="2" height="61"/>
<rect class="ob" x="571" width="389" height="61"/>
</g>

<g id="row24" transform="translate(0 3589.3)">
<rect class="oy" x="720" y="-10" width="225" height="82"/>
<use href="#staff"/>
<g id="m97"><text class="mn" x="0" y="-8">97</text><use href="#rY"/><use href="#sG" x="180"/><text class="a" x="238.5" y="76.5">127</text><text class="s" x="238.5" y="89">89945</text><text class="p" x="238.5" y="102.4">24.98%</text></g>
<g id="m98"><text class="mn" x="240" y="-8">98</text><use href="#rY" x="240"/><use href="#sR" x="420"/><text class="a" x="478.5" y="76.5">127</text><text class="s" x="478.5" y="89">91469</text><text class="p" x="478.5" y="102.4">12.48%</text></g>
<g id="m99"><text class="mn" x="480" y="-8">99</text><use href="#rB" x="480"/><use href="#sG" x="660"/><text class="a" x="718.5" y="76.5">127</text><text class="s" x="718.5" y="89">92993</text><text class="p" x="718.5" y="102.4">0.00%</text></g>
<g id="m100"><text class="mn" x="720" y="-8">100</text><use href="#qR" x="720"/><use href="#uB" x="900"/><text class="a" x="958.5" y="76.5">127</text><text class="s" x="958.5" y="89">93929</text><text class="p" x="958.5" y="102.4">31.52%</text></g>
<rect class="ob" x="0" width="738" height="61"/>
<rect class="og" x="720" width="225" height="61"/>
</g>

<g id="row25" transform="translate(0 3730.3)">
<use href="#staff"/>
<g id="m101"><text class="mn" x="0" y="-8">101</text><use href="#rY"/><use href="#sG" x="180"/><text class="a" x="238.5" y="76.5">127</text><text class="s" x="238.5" y="89">95249</text><text class="p" x="238.5" y="102.4">24.34%</text></g>
<g id="m102"><text class="mn" x="240" y="-8">102</text><use href="#sB" x="240"/><use href="#cB" x="330"/><use href="#cO" x="360"/><use href="#cY" x="405"/><use href="#cG" x="450"/><text class="a" x="478.5" y="76.5">134</text><text class="s" x="478.5" y="89">96857</text><text class="p" x="478.5" y="102.4">11.84%</text></g>
<g id="m103"><text class="mn" x="480" y="-8">103</text><use href="#rB" x="480"/><use href="#sO" x="660"/><text class="a" x="718.5" y="76.5">127</text><text class="s" x="718.5" y="89">98381</text><text class="p" x="718.5" y="102.4">0.00%</text></g>
<g id="m104"><text class="mn" x="720" y="-8">104</text><use href="#rR" x="720"/><use href="#sB" x="900"/><text class="a" x="958.5" y="76.5">127</text><text class="s" x="958.5" y="89">99905</text><text class="p" x="958.5" y="102.4">0.00%</text></g>
<rect class="or" x="90.2" width="11.7" height="61"/>
<rect class="ob" x="101.9" width="858.1" height="61"/>
</g>

<g id="row26" transform="translate(0 3871.3)">
<use href="#staff"/>
<g id="m105"><text class="mn" x="0" y="-8">105</text><use href="#rY"/><use href="#sG" x="180"/><text class="a" x="238.5" y="76.5">127</text><text class="s" x="238.5" y="89">101429</text><text class="p" x="238.5" y="102.4">0.00%</text></g>
<g id="m106"><text class="mn" x="240" y="-8">106</text><use href="#rY" x="240"/><use href="#sR" x="420"/><text class="a" x="478.5" y="76.5">127</text><text class="s" x="478.5" y="89">102341</text><text class="p" x="478.5" y="102.4">0.00%</text></g>
<g id="m107"><text class="mn" x="480" y="-8">107</text><use href="#rG" x="480"/><use href="#sY" x="660"/><text class="a" x="718.5" y="76.5">127</text><text class="s" x="718.5" y="89">103103</text><text class="p" x="718.5" y="102.4">0.00%</text></g>
<g id="m108"><text class="mn" x="720" y="-8">108</text><use href="#rR" x="720"/><use href="#sB" x="900"/><text class="a" x="958.5" y="76.5">127</text><text class="s" x="958.5" y="89">103865</text><text class="p" x="958.5" y="102.4">0.00%</text></g>
<rect class="ob" x="0" width="226.7" height="61"/>
<rect class="or" x="226.7" width="13.3" height="61"/>
</g>

<g id="row27" transform="translate(0 4012.3)">
<use href="#staff"/>
<g id="m109"><text class="mn" x="0" y="-8">109</text><use href="#rY"/><use href="#sG" x="180"/><text class="a" x="238.5" y="76.5">127</text><text class="s" x="238.5" y="89">104627</text><text class="p" x="238.5" y="102.4">0.00%</text></g>
<g id="m110"><text class="mn" x="240" y="-8">110</text><use href="#rY" x="240"/><use href="#sR" x="420"/><text class="a" x="478.5" y="76.5">127</text><text class="s" x="478.5" y="89">105389</text><text class="p" x="478.5" y="102.4">0.00%</text></g>
<g id="m111"><text class="mn" x="480" y="-8">111</text><use href="#rG" x="480"/><use href="#sY" x="660"/><text class="a" x="718.5" y="76.5">127</text><text class="s" x="718.5" y="89">106151</text><text class="p" x="718.5" y="102.4">0.00%</text></g>
<g id="m112"><text class="mn" x="720" y="-8">112</text><use href="#qR" x="720"/><use href="#uB" x="900"/><text class="a" x="958.5" y="76.5">127</text><text class="s" x="958.5" y="89">106913</text><text class="p" x="958.5" y="102.4">32.65%</text></g>
<rect class="og" x="720" width="225" height="61"/>
</g>

<g id="row28" transform="translate(0 4153.3)">
<use href="#staff"/>
<g id="m113"><text class="mn" x="0" y="-8">113</text><use href="#rY"/><use href="#sG" x="180"/><text class="a" x="238.5" y="76.5">127</text><text class="s" x="238.5" y="89">107675</text><text class="p" x="238.5" y="102.4">32.65%</text></g>
<g id="m114"><text class="mn" x="240" y="-8">114</text><use href="#rY" x="240"/><use href="#sR" x="420"/><text class="a" x="478.5" y="76.5">127</text><text class="s" x="478.5" y="89">108437</text><text class="p" x="478.5" y="102.4">32.65%</text></g>
<g id="m115"><text class="mn" x="480" y="-8">115</text><use href="#rG" x="480"/><use href="#sY" x="660"/><text class="a" x="718.5" y="76.5">127</text><text class="s" x="718.5" y="89">109199</text><text class="p" x="718.5" y="102.4">32.65%</text></g>
<g id="m116"><text class="mn" x="720" y="-8">116</text><use href="#rR" x="720"/><use href="#sB" x="900"/><text class="a" x="958.5" y="76.5">127</text><text class="s" x="958.5" y="89">109961</text><text class="p" x="958.5" y="102.4">32.65%</text></g>
</g>

<g id="row29" transform="translate(0 4294.3)">
<use href="#staff"/>
<g id="m117"><text class="mn" x="0" y="-8">117</text><use href="#rY"/><use href="#sG" x="180"/><text class="a" x="238.5" y="76.5">127</text><text class="s" x="238.5" y="89">110723</text><text class="p" x="238.5" y="102.4">32.65%</text></g>
<g id="m118"><text class="mn" x="240" y="-8">118</text><use href="#rY" x="240"/><use href="#sR" x="420"/><text class="a" x="478.5" y="76.5">127</text><text class="s" x="478.5" y="89">111485</text><text class="p" x="478.5" y="102.4">32.65%</text></g>
<g id="m119"><text class="mn" x="480" y="-8">119</text><use href="#rG" x="480"/><use href="#sY" x="660"/><text class="a" x="718.5" y="76.5">127</text><text class="s" x="718.5" y="89">112247</text><text class="p" x="718.5" y="102.4">32.65%</text></g>
<g id="m120"><text class="mn" x="720" y="-8">120</text><use href="#rR" x="720"/><use href="#sB" x="900"/><text class="a" x="958.5" y="76.5">127</text><text class="s" x="958.5" y="89">113009</text><text class="p" x="958.5" y="102.4">32.65%</text></g>
</g>

<g id="row30" transform="translate(0 4435.3)">
<rect class="oy" x="720" y="-10" width="225" height="82"/>
<use href="#staff"/>
<g id="m121"><text class="mn" x="0" y="-8">121</text><use href="#rY"/><use href="#sG" x="180"/><text class="a" x="238.5" y="76.5">127</text><text class="s" x="238.5" y="89">113771</text><text class="p" x="238.5" y="102.4">32.65%</text></g>
<g id="m122"><text class="mn" x="240" y="-8">122</text><use href="#rY" x="240"/><use href="#sR" x="420"/><text class="a" x="478.5" y="76.5">127</text><text class="s" x="478.5" y="89">114533</text><text class="p" x="478.5" y="102.4">32.65%</text></g>
<g id="m123"><text class="mn" x="480" y="-8">123</text><use href="#rG" x="480"/><use href="#sY" x="660"/><text class="a" x="718.5" y="76.5">127</text><text class="s" x="718.5" y="89">115295</text><text class="p" x="718.5" y="102.4">32.65%</text></g>
<g id="m124"><text class="mn" x="720" y="-8">124</text><use href="#qR" x="720"/><use href="#uB" x="900"/><text class="a" x="958.5" y="76.5">127</text><text class="s" x="958.5" y="89">116057</text><text class="p" x="958.5" y="102.4">65.30%</text></g>
<rect class="og" x="720" width="225" height="61"/>
</g>

<g id="row31" transform="translate(0 4576.3)">
<use href="#staff"/>
<g id="m125"><text class="mn" x="0" y="-8">125</text><use href="#rY"/><use href="#sG" x="180"/><text class="a" x="238.5" y="76.5">127</text><text class="s" x="238.5" y="89">117227</text><text class="p" x="238.5" y="102.4">59.61%</text></g>
<g id="m126"><text class="mn" x="240" y="-8">126</text><use href="#rY" x="240"/><use href="#sR" x="420"/><text class="a" x="478.5" y="76.5">127</text><text class="s" x="478.5" y="89">118751</text><text class="p" x="478.5" y="102.4">47.11%</text></g>
<g id="m127"><text class="mn" x="480" y="-8">127</text><use href="#rG" x="480"/><use href="#sY" x="660"/><text class="a" x="718.5" y="76.5">127</text><text class="s" x="718.5" y="89">120275</text><text class="p" x="718.5" y="102.4">34.61%</text></g>
<g id="m128"><text class="mn" x="720" y="-8">128</text><use href="#rR" x="720"/><use href="#sB" x="900"/><text class="a" x="958.5" y="76.5">127</text><text class="s" x="958.5" y="89">121799</text><text class="p" x="958.5" y="102.4">22.11%</text></g>
<rect class="or" x="119.6" width="10.4" height="61"/>
<rect class="ob" x="130" width="830" height="61"/>
</g>

<g id="row32" transform="translate(0 4717.3)">
<use href="#staff"/>
<g id="m129"><text class="mn" x="0" y="-8">129</text><use href="#rY"/><use href="#sG" x="180"/><text class="a" x="238.5" y="76.5">127</text><text class="s" x="238.5" y="89">123323</text><text class="p" x="238.5" y="102.4">9.61%</text></g>
<g id="m130"><text class="mn" x="240" y="-8">130</text><use href="#rY" x="240"/><use href="#sR" x="420"/><text class="a" x="478.5" y="76.5">127</text><text class="s" x="478.5" y="89">124847</text><text class="p" x="478.5" y="102.4">0.00%</text></g>
<g id="m131"><text class="mn" x="480" y="-8">131</text><use href="#rG" x="480"/><use href="#sY" x="660"/><text class="a" x="718.5" y="76.5">127</text><text class="s" x="718.5" y="89">126371</text><text class="p" x="718.5" y="102.4">0.00%</text></g>
<g id="m132"><text class="mn" x="720" y="-8">132</text><use href="#sR" x="720"/><use href="#cR" x="810"/><use href="#cR" x="840"/><use href="#cR" x="870"/><use href="#sB" x="900"/><text class="a" x="958.5" y="76.5">143</text><text class="s" x="958.5" y="89">128039</text><text class="p" x="958.5" y="102.4">0.00%</text></g>
<rect class="ob" x="0" width="904" height="61"/>
</g>

<g id="row33" transform="translate(0 4858.3)">
<use href="#staff"/>
<g id="m133"><text class="mn" x="0" y="-8">133</text><use href="#rY"/><use href="#sG" x="180"/><text class="a" x="238.5" y="76.5">127</text><text class="s" x="238.5" y="89">128801</text><text class="p" x="238.5" y="102.4">0.00%</text></g>
<g id="m134"><text class="mn" x="240" y="-8">134</text><use href="#rY" x="240"/><use href="#sR" x="420"/><text class="a" x="478.5" y="76.5">127</text><text class="s" x="478.5" y="89">129563</text><text class="p" x="478.5" y="102.4">0.00%</text></g>
<g id="m135"><text class="mn" x="480" y="-8">135</text><use href="#rG" x="480"/><use href="#sY" x="660"/><text class="a" x="718.5" y="76.5">127</text><text class="s" x="718.5" y="89">130325</text><text class="p" x="718.5" y="102.4">0.00%</text></g>
<g id="m136"><text class="mn" x="720" y="-8">136</text><use href="#rR" x="720"/><use href="#sB" x="900"/><text class="a" x="958.5" y="76.5">127</text><text class="s" x="958.5" y="89">131087</text><text class="p" x="958.5" y="102.4">0.00%</text></g>
</g>

<g id="row34" transform="translate(0 4999.3)">
<use href="#staff"/>
<g id="m137"><text class="mn" x="0" y="-8">137</text><use href="#rY"/><use href="#sG" x="180"/><text class="a" x="238.5" y="76.5">127</text><text class="s" x="238.5" y="89">131849</text><text class="p" x="238.5" y="102.4">0.00%</text></g>
<g id="m138"><text class="mn" x="240" y="-8">138</text><use href="#rY" x="240"/><use href="#sR" x="420"/><text class="a" x="478.5" y="76.5">127</text><text class="s" x="478.5" y="89">132611</text><text class="p" x="478.5" y="102.4">0.00%</text></g>
<g id="m139"><text class="mn" x="480" y="-8">139</text><rect class="g" x="480" y="-3.5" width="299" height="7"/><use href="#cG" x="480"/><text class="a" x="718.5" y="76.5">73</text><text class="s" x="718.5" y="89">133049</text><text class="p" x="718.5" y="102.4">0.00%</text></g>
<g id="m140"><text class="mn" x="720" y="-8">140</text><text class="a" x="958.5" y="76.5">12</text><text class="s" x="958.5" y="89">133121</text><text class="p" x="958.5" y="102.4">0.00%</text></g>
</g>
</g>
</svg>
